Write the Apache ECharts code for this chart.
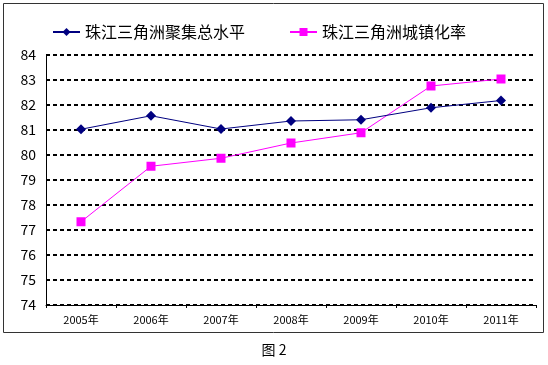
<!DOCTYPE html>
<html><head><meta charset="utf-8">
<script src="https://cdn.jsdelivr.net/npm/echarts@6/dist/echarts.min.js"></script>
<style>html,body{margin:0;padding:0;background:#fff}#c{width:548px;height:365px}</style>
</head><body><div id="c"></div>
<script>
const categories = ['2005年','2006年','2007年','2008年','2009年','2010年','2011年'];
const seriesNames = ['珠江三角洲聚集总水平','珠江三角洲城镇化率'];
const agglomeration = [81.03, 81.57, 81.04, 81.36, 81.41, 81.89, 82.18];
const urbanization = [77.33, 79.55, 79.87, 80.48, 80.89, 82.76, 83.04];
const yTicks = {min: 74, max: 84, interval: 1};
const caption = '图 2';

const chart = echarts.init(document.getElementById('c'), null, {renderer: 'canvas'});
const font = '"Noto Sans CJK SC", "SimSun", sans-serif';
chart.setOption({
  animation: false,
  backgroundColor: '#fff',
  graphic: [
    {type: 'rect', shape: {x: 3.5, y: 3.5, width: 540, height: 329}, style: {fill: 'none', stroke: '#333', lineWidth: 1}, z: -1},
    {type: 'text', left: 'center', top: 343, style: {text: caption, font: '14px ' + font, fill: '#000'}}
  ],
  legend: {
    top: 24, left: 52, itemGap: 44, itemWidth: 27, itemHeight: 10, padding: 0,
    textStyle: {fontFamily: font, fontSize: 16, color: '#000'},
    data: [seriesNames[0], seriesNames[1]]
  },
  grid: {left: 46, right: 12, top: 55, bottom: 60},
  xAxis: {
    type: 'category', data: categories, boundaryGap: true,
    axisLine: {lineStyle: {color: '#000', width: 1}},
    axisTick: {show: true, length: 3, inside: false, lineStyle: {color: '#000'}},
    axisLabel: {fontFamily: font, fontSize: 11, color: '#000', margin: 9}
  },
  yAxis: {
    type: 'value', min: yTicks.min, max: yTicks.max, interval: yTicks.interval,
    axisLine: {show: true, lineStyle: {color: '#000', width: 1}},
    axisTick: {show: false},
    axisLabel: {fontFamily: font, fontSize: 14, color: '#000', margin: 10},
    splitLine: {show: true, lineStyle: {color: '#000', width: 2, type: [4, 3]}}
  },
  series: [
    {
      name: seriesNames[0], type: 'line', data: agglomeration,
      symbol: 'diamond', symbolSize: 10,
      itemStyle: {color: '#000080'},
      lineStyle: {color: '#000080', width: 1}, z: 3
    },
    {
      name: seriesNames[1], type: 'line', data: urbanization,
      symbol: 'rect', symbolSize: 9,
      itemStyle: {color: '#ff00ff'},
      lineStyle: {color: '#ff00ff', width: 1}, z: 2
    }
  ]
});
</script></body></html>
